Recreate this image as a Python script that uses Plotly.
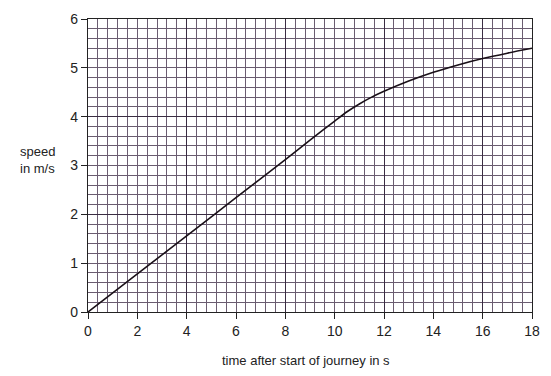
import plotly.graph_objects as go

# data
time_s = [0, 2, 4, 6, 8, 9, 10, 10.5, 11, 11.5, 12, 13, 14, 15, 16, 17, 18]
speed_ms = [0, 0.78, 1.56, 2.34, 3.12, 3.52, 3.91, 4.10, 4.26, 4.40, 4.52, 4.73, 4.91, 5.06, 5.19, 5.30, 5.40]
x_ticks = [0, 2, 4, 6, 8, 10, 12, 14, 16, 18]
y_ticks = [0, 1, 2, 3, 4, 5, 6]

FONT = "Liberation Sans, Arial, sans-serif"
MINOR = "#6a5c70"
MAJOR = "#3a2c42"

fig = go.Figure()
# invisible trace on overlay axes for the heavier grid lines
fig.add_trace(go.Scatter(x=[0, 18], y=[0, 6], xaxis="x2", yaxis="y2", mode="markers", marker=dict(opacity=0), showlegend=False, hoverinfo="skip"))
fig.add_trace(go.Scatter(x=time_s, y=speed_ms, mode="lines", line=dict(color="#1a1018", width=1.6, shape="spline", smoothing=0.8), showlegend=False, hoverinfo="skip"))

fig.update_layout(
    width=551, height=376,
    margin=dict(l=88, r=16, t=11, b=64),
    paper_bgcolor="white", plot_bgcolor="white",
    font=dict(family=FONT, color="#222", size=14),
    xaxis=dict(range=[0, 18], tickvals=x_ticks, ticks="outside", ticklen=6, tickcolor="#222",
               showgrid=True, gridcolor=MINOR, gridwidth=1,
               minor=dict(dtick=0.4, tick0=0, showgrid=True, gridcolor=MINOR, gridwidth=1, ticks=""),
               showline=True, linecolor="#222", linewidth=1.3, mirror=True, zeroline=False,
               tickfont=dict(size=14, family=FONT)),
    yaxis=dict(range=[0, 6], tickvals=y_ticks, ticks="outside", ticklen=6, tickcolor="#222",
               showgrid=True, gridcolor=MINOR, gridwidth=1,
               minor=dict(dtick=0.2, tick0=0, showgrid=True, gridcolor=MINOR, gridwidth=1, ticks=""),
               showline=True, linecolor="#222", linewidth=1.3, mirror=True, zeroline=False,
               tickfont=dict(size=14, family=FONT)),
    xaxis2=dict(range=[0, 18], overlaying="x", dtick=4, tick0=0, showgrid=True, gridcolor=MAJOR, gridwidth=1.3,
                showticklabels=False, ticks="", zeroline=False),
    yaxis2=dict(range=[0, 6], overlaying="y", dtick=2, tick0=0, showgrid=True, gridcolor=MAJOR, gridwidth=1.3,
                showticklabels=False, ticks="", zeroline=False),
    annotations=[
        dict(text="speed<br>in m/s", xref="paper", yref="paper", x=-0.157, y=0.52, xanchor="left", yanchor="middle",
             align="left", showarrow=False, font=dict(size=13, family=FONT, color="#222")),
        dict(text="time after start of journey in s", xref="paper", yref="paper", x=0.49, y=-0.166,
             xanchor="center", yanchor="middle", showarrow=False, font=dict(size=13, family=FONT, color="#222")),
    ],
)

fig.write_html("out.html")
